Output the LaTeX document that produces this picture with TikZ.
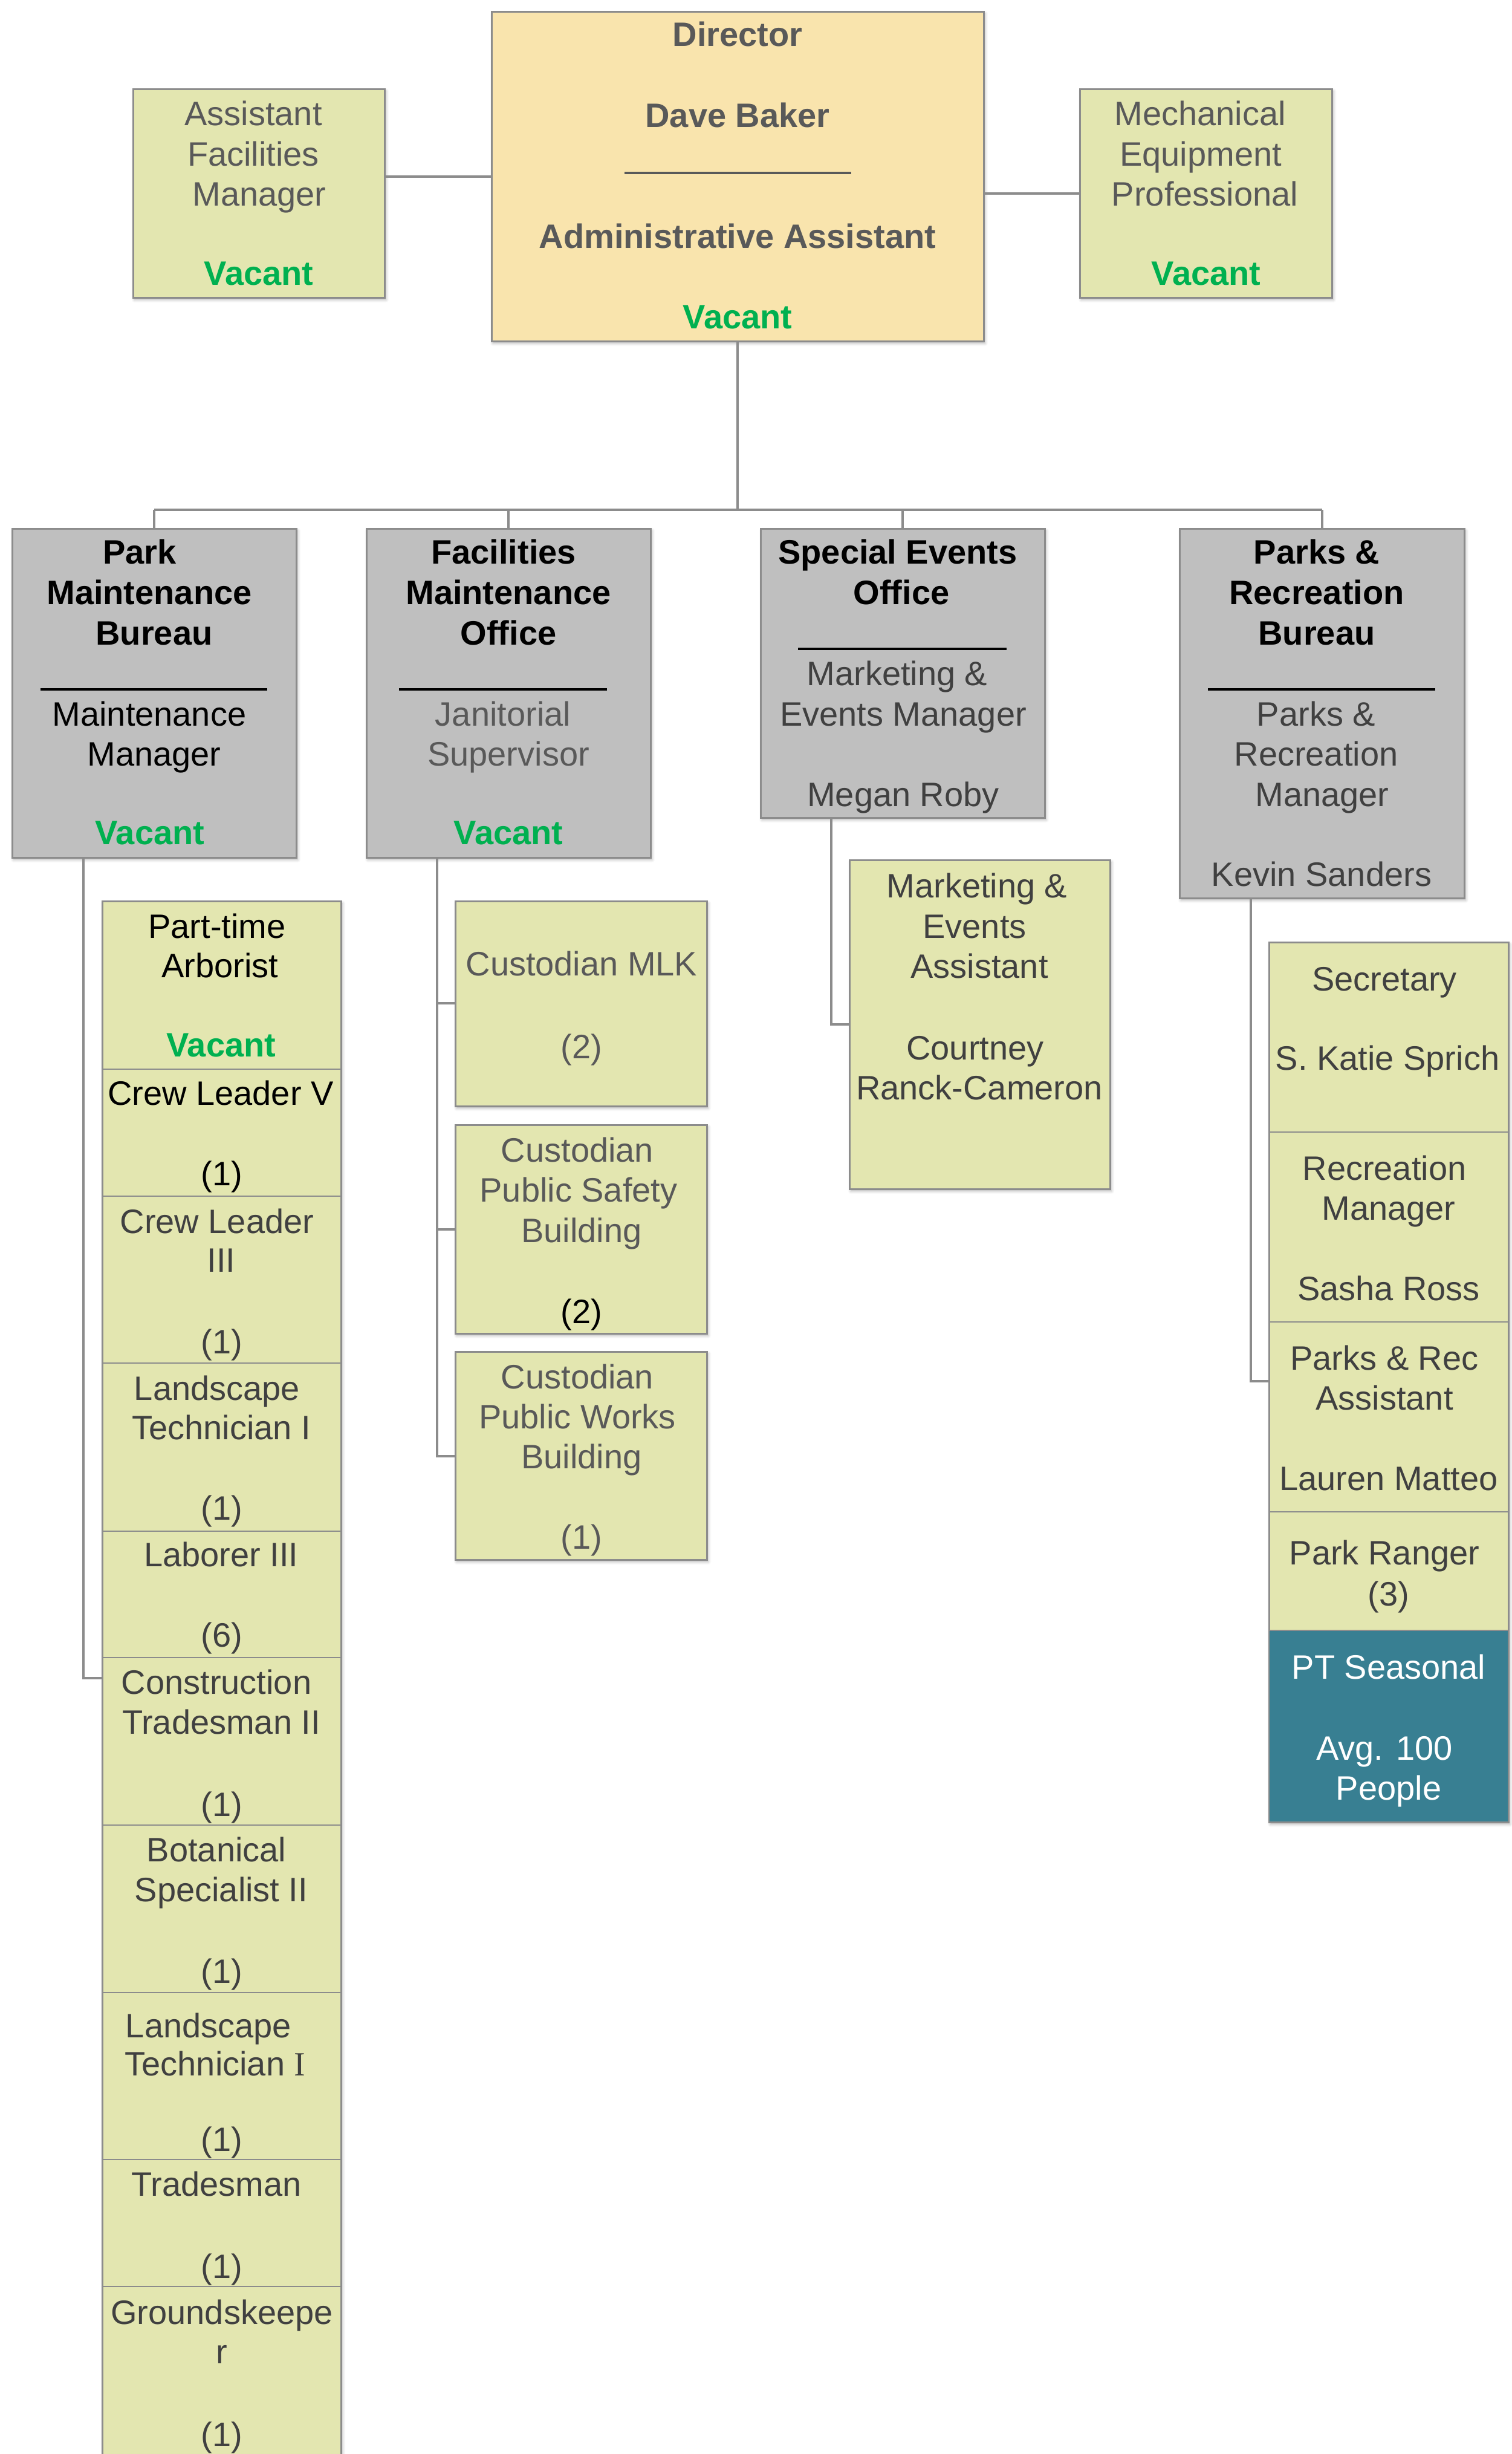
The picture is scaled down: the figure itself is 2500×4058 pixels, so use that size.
\documentclass[tikz,border=0pt]{standalone}
\usepackage{fontspec}
\setmainfont{Liberation Sans}
\newfontfamily\serifI{Liberation Serif}
\usetikzlibrary{fit,shadows.blur}
\definecolor{dirfill}{HTML}{F9E4AD}
\definecolor{grnfill}{HTML}{E3E6B0}
\definecolor{gryfill}{HTML}{BFBFBF}
\definecolor{tealfill}{HTML}{387F92}
\definecolor{vacant}{HTML}{00B050}
\definecolor{bordc}{HTML}{8C8C8C}
\definecolor{txtA}{HTML}{595959}
\definecolor{txtB}{HTML}{404040}
\definecolor{connc}{HTML}{8C8C8C}
\newcounter{lblc}
\newcommand\putl[4][]{\stepcounter{lblc}\node[lbl,#1] (l\arabic{lblc}) at (#2,#3) {#4};}
\tikzset{
  box/.style={inner sep=0pt, outer sep=0pt, draw=bordc, line width=0.75pt,
    blur shadow={shadow xshift=0.6pt, shadow yshift=-0.9pt, shadow blur radius=1.2pt, shadow opacity=30}},
  cell/.style={inner sep=0pt, outer sep=0pt, draw=bordc, line width=0.5pt},
  conn/.style={draw=connc, line width=1pt},
  lbl/.style={inner sep=0pt, anchor=base, text=txtB, font=\fontsize{14pt}{16.6pt}\selectfont},
  hd/.style={font=\fontsize{14pt}{16.6pt}\selectfont\bfseries},
  vac/.style={text=vacant, font=\fontsize{14pt}{16.6pt}\selectfont\bfseries},
  rulel/.style={line width=1.1pt}
}
\begin{document}
\begin{tikzpicture}[x=0.25pt,y=-0.25pt]
\useasboundingbox (0,0) rectangle (2500,4058);

% ---------- top level boxes ----------
\node[box, fill=dirfill, fit={(813,19) (1627,564)}] (dir) {};
\node[box, fill=grnfill, fit={(220,147) (636,492)}] (asst) {};
\node[box, fill=grnfill, fit={(1786,147) (2203,492)}] (mech) {};

% ---------- bureau boxes ----------
\node[box, fill=gryfill, fit={(20,874) (490,1418)}] (pmb) {};
\node[box, fill=gryfill, fit={(606,874) (1076,1418)}] (fmo) {};
\node[box, fill=gryfill, fit={(1258,874) (1728,1352)}] (seo) {};
\node[box, fill=gryfill, fit={(1951,874) (2422,1485)}] (prb) {};

% ---------- park maintenance column ----------
\node[box, fill=grnfill, fit={(169,1490) (564,4120)}] (ptcol) {};
\node[cell, fit={(169,1490) (564,1768)}] (pt0) {};
\node[cell, fit={(169,1768) (564,1978)}] (pt1) {};
\node[cell, fit={(169,1978) (564,2254)}] (pt2) {};
\node[cell, fit={(169,2254) (564,2532)}] (pt3) {};
\node[cell, fit={(169,2532) (564,2741)}] (pt4) {};
\node[cell, fit={(169,2741) (564,3018)}] (pt5) {};
\node[cell, fit={(169,3018) (564,3295)}] (pt6) {};
\node[cell, fit={(169,3295) (564,3571)}] (pt7) {};
\node[cell, fit={(169,3571) (564,3781)}] (pt8) {};
\node[cell, fit={(169,3781) (564,4120)}] (pt9) {};

% ---------- custodian boxes ----------
\node[box, fill=grnfill, fit={(753,1490) (1169,1829)}] (cmlk) {};
\node[box, fill=grnfill, fit={(753,1860) (1169,2205)}] (cps) {};
\node[box, fill=grnfill, fit={(753,2235) (1169,2579)}] (cpw) {};

% ---------- marketing assistant ----------
\node[box, fill=grnfill, fit={(1405,1422) (1836,1966)}] (mea) {};

% ---------- parks & rec column ----------
\node[box, fill=grnfill, fit={(2099,1558) (2495,3013)}] (rcol) {};
\node[cell, fit={(2099,1558) (2495,1872)}] (r0) {};
\node[cell, fit={(2099,1872) (2495,2186)}] (r1) {};
\node[cell, fit={(2099,2186) (2495,2500)}] (r2) {};
\node[cell, fit={(2099,2500) (2495,2696)}] (r3) {};
\node[cell, fill=tealfill, fit={(2099,2696) (2495,3013)}] (r4) {};

% ---------- connectors ----------
\coordinate (ad) at (700,292);
\coordinate (dm) at (1700,320);
\coordinate (bus) at (1220,843);
\coordinate (pmbL) at (138,2775);
\coordinate (fmoL) at (723,2408);
\coordinate (fmo1) at (723,1659);
\coordinate (fmo2) at (723,2033);
\coordinate (seoL) at (1375,1694);
\coordinate (prbL) at (2069,2284);

\draw[conn] (asst.east |- ad) -- (dir.west |- ad);
\draw[conn] (dir.east |- dm) -- (mech.west |- dm);
\draw[conn] (dir.south) -- (bus);
\draw[conn] (pmb.north |- bus) -- (prb.north |- bus);
\draw[conn] (pmb.north |- bus) -- (pmb.north);
\draw[conn] (fmo.north |- bus) -- (fmo.north);
\draw[conn] (seo.north |- bus) -- (seo.north);
\draw[conn] (prb.north |- bus) -- (prb.north);
\draw[conn] (pmb.south -| pmbL) -- (pmbL) -- (ptcol.west |- pmbL);
\draw[conn] (fmo.south -| fmoL) -- (fmoL) -- (cpw.west |- fmoL);
\draw[conn] (fmo1) -- (cmlk.west |- fmo1);
\draw[conn] (fmo2) -- (cps.west |- fmo2);
\draw[conn] (seo.south -| seoL) -- (seoL) -- (mea.west |- seoL);
\draw[conn] (prb.south -| prbL) -- (prbL) -- (rcol.west |- prbL);

% ---------- director text ----------
\putl[hd,text=txtA]{1220}{77}{Director}
\putl[hd,text=txtA]{1220}{210}{Dave Baker}
\draw[rulel, txtA] (1033,286) -- (1408,286);
\putl[hd,text=txtA]{1220}{410}{Administrative Assistant}
\putl[vac]{1220}{543}{Vacant}

\putl[text=txtA]{419}{207}{Assistant}
\putl[text=txtA]{419}{274}{Facilities}
\putl[text=txtA]{429}{340}{Manager}
\putl[vac]{428}{471}{Vacant}

\putl[text=txtA]{1985}{207}{Mechanical}
\putl[text=txtA]{1986}{274}{Equipment}
\putl[text=txtA]{1993}{340}{Professional}
\putl[vac]{1995}{471}{Vacant}

% ---------- bureau text ----------
\putl[hd,text=black]{231}{932}{Park}
\putl[hd,text=black]{247}{999}{Maintenance}
\putl[hd,text=black]{255}{1066}{Bureau}
\draw[rulel, black] (67,1140) -- (442,1140);
\putl[text=black]{247}{1200}{Maintenance}
\putl[text=black]{255}{1266}{Manager}
\putl[vac]{248}{1396}{Vacant}

\putl[hd,text=black]{833}{932}{Facilities}
\putl[hd,text=black]{841}{999}{Maintenance}
\putl[hd,text=black]{841}{1066}{Office}
\draw[rulel, black] (660,1140) -- (1004,1140);
\putl[text=txtA]{832}{1200}{Janitorial}
\putl[text=txtA]{841}{1266}{Supervisor}
\putl[vac]{841}{1396}{Vacant}

\putl[hd,text=black]{1485}{932}{Special Events}
\putl[hd,text=black]{1491}{999}{Office}
\draw[rulel, black] (1320,1073) -- (1665,1073);
\putl{1484}{1133}{Marketing \&}
\putl{1494}{1200}{Events Manager}
\putl{1494}{1333}{Megan Roby}

\putl[hd,text=black]{2178}{932}{Parks \&}
\putl[hd,text=black]{2178}{999}{Recreation}
\putl[hd,text=black]{2178}{1066}{Bureau}
\draw[rulel, black] (1998,1140) -- (2374,1140);
\putl{2177}{1200}{Parks \&}
\putl{2177}{1266}{Recreation}
\putl{2187}{1333}{Manager}
\putl{2186}{1465}{Kevin Sanders}

% ---------- park maintenance column text ----------
\putl[text=black]{359}{1551}{Part-time}
\putl[text=black]{364}{1616}{Arborist}
\putl[vac]{366}{1747}{Vacant}
\putl[text=black]{365}{1827}{Crew Leader V}
\putl[text=black]{367}{1960}{(1)}
\putl{359}{2039}{Crew Leader}
\putl{366}{2103}{III}
\putl{367}{2238}{(1)}
\putl{359}{2315}{Landscape}
\putl{366}{2380}{Technician I}
\putl{367}{2513}{(1)}
\putl{366}{2590}{Laborer III}
\putl{367}{2723}{(6)}
\putl{358}{2801}{Construction}
\putl{366}{2867}{Tradesman II}
\putl{367}{3003}{(1)}
\putl{358}{3078}{Botanical}
\putl{366}{3144}{Specialist II}
\putl{367}{3279}{(1)}
\putl{345}{3369}{Landscape}
\putl{356}{3432}{Technician {\serifI I}}
\putl{367}{3557}{(1)}
\putl{358}{3631}{Tradesman}
\putl{367}{3767}{(1)}
\putl{367}{3843}{Groundskeepe}
\putl{367}{3908}{r}
\putl{367}{4045}{(1)}

% ---------- custodian text ----------
\putl[text=txtA]{962}{1613}{Custodian MLK}
\putl[text=txtA]{962}{1750}{(2)}
\putl[text=txtA]{955}{1921}{Custodian}
\putl[text=txtA]{957}{1987}{Public Safety}
\putl[text=txtA]{962}{2054}{Building}
\putl[text=black]{962}{2188}{(2)}
\putl[text=txtA]{955}{2296}{Custodian}
\putl[text=txtA]{955}{2362}{Public Works}
\putl[text=txtA]{962}{2428}{Building}
\putl[text=txtA]{962}{2561}{(1)}

% ---------- marketing assistant text ----------
\putl{1616}{1484}{Marketing \&}
\putl{1612}{1551}{Events}
\putl{1620}{1617}{Assistant}
\putl{1613}{1752}{Courtney}
\putl{1620}{1818}{Ranck-Cameron}

% ---------- parks & rec column text ----------
\putl{2290}{1638}{Secretary}
\putl{2295}{1769}{S. Katie Sprich}
\putl{2290}{1951}{Recreation}
\putl{2297}{2017}{Manager}
\putl{2297}{2150}{Sasha Ross}
\putl{2290}{2265}{Parks \& Rec}
\putl{2290}{2331}{Assistant}
\putl{2297}{2464}{Lauren Matteo}
\putl{2290}{2587}{Park Ranger}
\putl{2297}{2655}{(3)}
\putl[text=white]{2297}{2776}{PT Seasonal}
\putl[text=white]{2290}{2910}{Avg. 100}
\putl[text=white]{2297}{2976}{People}
\end{tikzpicture}
\end{document}
